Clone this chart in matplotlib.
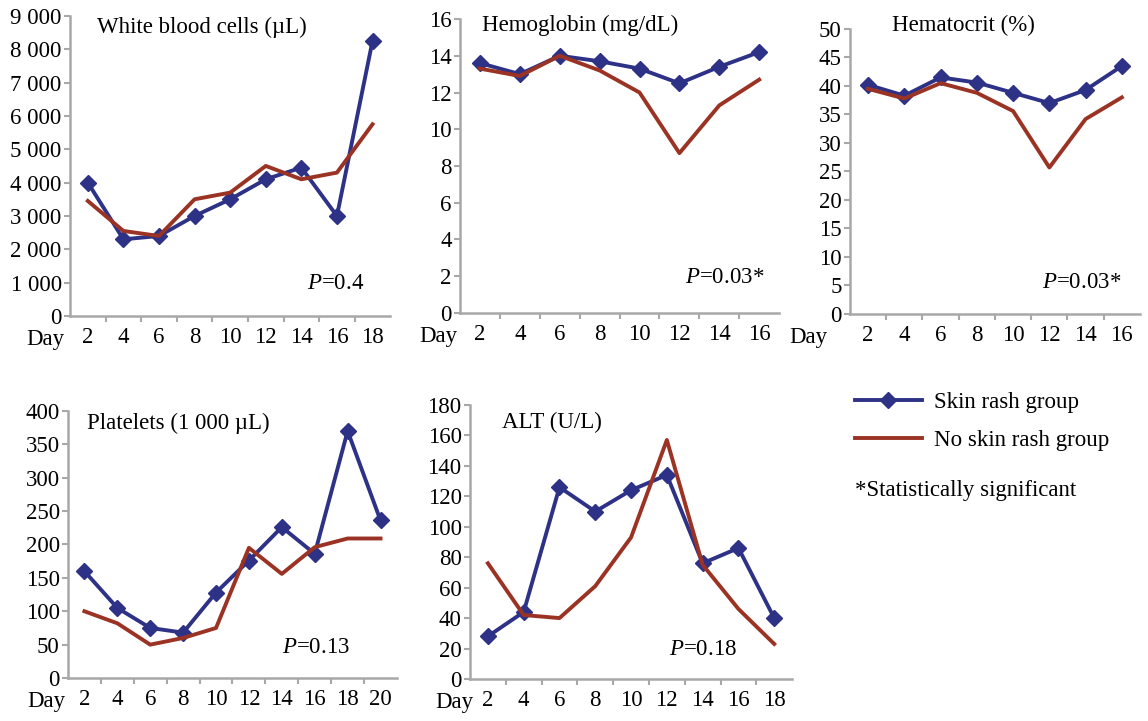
import matplotlib
matplotlib.use("Agg")
import matplotlib.pyplot as plt
from matplotlib.ticker import FixedLocator, FuncFormatter

# ==========================================
# DATA
# ==========================================
wbc_days = [2, 4, 6, 8, 10, 12, 14, 16, 18]
wbc_rash = [4000, 2300, 2400, 3000, 3500, 4100, 4450, 3000, 8250]
wbc_norash = [3450, 2550, 2400, 3500, 3700, 4500, 4100, 4300, 5750]

hb_days = [2, 4, 6, 8, 10, 12, 14, 16]
hb_rash = [13.6, 13.0, 14.0, 13.7, 13.3, 12.5, 13.4, 14.2]
hb_norash = [13.3, 12.9, 14.0, 13.2, 12.0, 8.7, 11.3, 12.7]

hct_days = [2, 4, 6, 8, 10, 12, 14, 16]
hct_rash = [40.2, 38.3, 41.5, 40.6, 38.8, 37.0, 39.3, 43.5]
hct_norash = [39.5, 37.8, 40.5, 38.8, 35.6, 25.7, 34.2, 38.0]

plt_days = [2, 4, 6, 8, 10, 12, 14, 16, 18, 20]
plt_rash = [160, 105, 75, 68, 128, 176, 226, 186, 370, 236]
plt_norash = [100, 82, 50, 60, 75, 195, 156, 196, 209, 209]

alt_days = [2, 4, 6, 8, 10, 12, 14, 16, 18]
alt_rash = [28, 44, 126, 110, 124, 134, 76, 86, 40]
alt_norash = [76, 42, 40, 61, 93, 157, 75, 46, 23]

BLUE = "#2e3286"
RED = "#9b3324"
AXIS_GRAY = "#a8a8a8"

plt.rcParams["font.family"] = ["Liberation Serif", "DejaVu Serif"]
plt.rcParams["mathtext.fontset"] = "custom"
plt.rcParams["mathtext.rm"] = "Liberation Serif"
plt.rcParams["mathtext.it"] = "Liberation Serif:italic"
FS = 16.5


def space_thousands(v, pos):
    v = int(round(v))
    return f"{v:,}".replace(",", " ")


def draw_panel(rect, days, rash, norash, ymax, ystep, title, title_xy, ptext, p_xy,
               day_dx=-24, thousands=False):
    ax = fig.add_axes(rect)
    xs = list(range(len(days)))
    ax.plot(xs, rash, color=BLUE, lw=2.8, marker="D", ms=8, label="Skin rash group")
    ax.plot(xs, norash, color=RED, lw=2.8, label="No skin rash group")

    ax.set_xlim(-0.5, len(days) - 0.5)
    ax.set_ylim(0, ymax)
    ax.set_yticks([ystep * i for i in range(int(round(ymax / ystep)) + 1)])
    if thousands:
        ax.yaxis.set_major_formatter(FuncFormatter(space_thousands))
    ax.set_xticks(xs)
    ax.set_xticklabels([str(d) for d in days])
    ax.xaxis.set_minor_locator(FixedLocator([i + 0.5 for i in range(len(days) - 1)]))

    for s in ["top", "right"]:
        ax.spines[s].set_visible(False)
    for s in ["left", "bottom"]:
        ax.spines[s].set_color(AXIS_GRAY)
        ax.spines[s].set_linewidth(1.8)

    ax.tick_params(axis="x", which="major", length=0, pad=8, labelsize=FS)
    ax.tick_params(axis="x", which="minor", length=4, width=1.5, color=AXIS_GRAY, direction="out")
    ax.tick_params(axis="y", length=4, width=1.5, color=AXIS_GRAY, pad=2, labelsize=FS)

    ax.annotate("Day", xy=(0, 0), xycoords="axes fraction", xytext=(day_dx, -13),
                textcoords="offset pixels", ha="center", va="top", fontsize=FS)
    ax.text(title_xy[0], title_xy[1], title, transform=ax.transAxes,
            ha="left", va="center", fontsize=FS)
    ax.text(p_xy[0], p_xy[1], r"$\mathit{P}$" + ptext, transform=ax.transAxes,
            ha="center", va="center", fontsize=FS)
    return ax


fig = plt.figure(figsize=(11.48, 7.21), dpi=100)

ax1 = draw_panel([0.061, 0.5617, 0.279, 0.4163], wbc_days, wbc_rash, wbc_norash,
                 9000, 1000, "White blood cells (\u00b5L)", (0.085, 0.96), "=0.4", (0.83, 0.107),
                 day_dx=-25, thousands=True)
draw_panel([0.4007, 0.566, 0.278, 0.4076], hb_days, hb_rash, hb_norash,
           16, 2, "Hemoglobin (mg/dL)", (0.07, 0.98), "=0.03*", (0.83, 0.122), day_dx=-22)
draw_panel([0.7404, 0.5645, 0.2526, 0.3953], hct_days, hct_rash, hct_norash,
           50, 5, "Hematocrit (%)", (0.145, 1.014), "=0.03*", (0.80, 0.109), day_dx=-42)
draw_panel([0.0592, 0.0596, 0.2866, 0.3704], plt_days, plt_rash, plt_norash,
           400, 50, "Platelets (1 000 \u00b5L)", (0.058, 0.955), "=0.13", (0.754, 0.116),
           day_dx=-22)
draw_panel([0.4094, 0.0583, 0.2806, 0.38], alt_days, alt_rash, alt_norash,
           180, 20, "ALT (U/L)", (0.10, 0.938), "=0.18", (0.724, 0.106), day_dx=-16)

handles, labels = ax1.get_legend_handles_labels()
fig.legend(handles, labels, loc="upper left", bbox_to_anchor=(0.737, 0.469),
           frameon=False, fontsize=FS, handlelength=2.9, handletextpad=0.55,
           labelspacing=0.75, borderaxespad=0)
fig.text(0.745, 0.32, "*Statistically significant", fontsize=FS, ha="left", va="center")

fig.savefig("out.png", dpi=100)
